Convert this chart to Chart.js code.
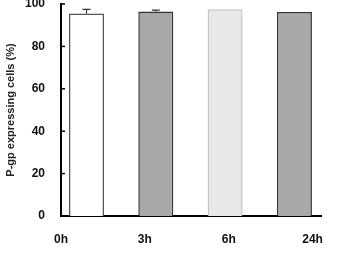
<!DOCTYPE html>
<html>
<head>
<meta charset="utf-8">
<script src="https://cdn.jsdelivr.net/npm/chart.js@4.4.1/dist/chart.umd.min.js"></script>
<style>
  html, body { margin: 0; padding: 0; background: #fff; }
  #wrap { width: 359px; height: 253px; }
</style>
</head>
<body>
<div id="wrap"><canvas id="pgpchart"></canvas></div>
<script>
var categories = ["0h", "3h", "6h", "24h"];
var values = [95.5, 96.5, 97.5, 96.2];
var errors = [2.0, 0.6, 0, 0];
var fills = ["#ffffff", "#a8a8a8", "#e8e8e8", "#a8a8a8"];
var borders = ["#555555", "#333333", "#c4c4c4", "#333333"];

var font = "'Liberation Sans', Arial, sans-serif";

// error bars, upward only
var errorBars = {
    id: "errorBars",
    afterDatasetsDraw: function (chart) {
        var ctx = chart.ctx, xs = chart.scales.x, ys = chart.scales.y;
        ctx.save();
        ctx.strokeStyle = "#333";
        ctx.lineWidth = 1.2;
        for (var i = 0; i < values.length; i++) {
            if (!errors[i]) continue;
            var x = xs.getPixelForValue(i);
            var y0 = ys.getPixelForValue(values[i]);
            var y1 = ys.getPixelForValue(values[i] + errors[i]);
            ctx.beginPath();
            ctx.moveTo(x, y0); ctx.lineTo(x, y1);
            ctx.moveTo(x - 4, y1); ctx.lineTo(x + 4, y1);
            ctx.stroke();
        }
        ctx.restore();
    }
};

// tick marks pointing into the plot
var innerTicks = {
    id: "innerTicks",
    afterDraw: function (chart) {
        var ctx = chart.ctx, ys = chart.scales.y, left = chart.chartArea.left;
        ctx.save();
        ctx.strokeStyle = "#000";
        ctx.lineWidth = 1.5;
        ys.ticks.forEach(function (t) {
            var y = ys.getPixelForValue(t.value);
            ctx.beginPath();
            ctx.moveTo(left, y); ctx.lineTo(left + 4, y);
            ctx.stroke();
        });
        ctx.restore();
    }
};

var config = {
    type: "bar",
    data: {
        datasets: [{
            data: values.map(function (v, i) { return { x: i, y: v }; }),
            backgroundColor: fills,
            borderColor: borders,
            borderWidth: 1.5,
            barPercentage: 0.505,
            categoryPercentage: 1
        }]
    },
    options: {
        responsive: true,
        maintainAspectRatio: false,
        animation: false,
        layout: { padding: { left: 0, right: 38, top: 4, bottom: 0 } },
        plugins: { legend: { display: false }, tooltip: { enabled: false } },
        scales: {
            x: {
                type: "linear",
                position: "bottom",
                offset: false,
                min: -0.368,
                max: 3.384,
                ticks: { display: false },
                grid: { display: false, drawTicks: false, offset: false },
                border: { display: true, color: "#000", width: 2 },
                afterFit: function (s) { s.height = 0; s.paddingLeft = 0; s.paddingRight = 0; }
            },
            xl: {
                type: "linear",
                position: "bottom",
                offset: false,
                min: 0,
                max: 3.1,
                ticks: {
                    stepSize: 1,
                    includeBounds: false,
                    padding: 16,
                    autoSkip: false,
                    maxRotation: 0,
                    color: "#111",
                    font: { family: font, size: 12, weight: "bold" },
                    callback: function (v) { return categories[v]; }
                },
                grid: { display: false, drawTicks: false, tickLength: 0, offset: false },
                border: { display: false },
                afterFit: function (s) { s.height = 37; s.paddingLeft = 0; s.paddingRight = 0; }
            },
            y: {
                min: 0,
                max: 100,
                ticks: {
                    stepSize: 20,
                    padding: 16,
                    color: "#111",
                    font: { family: font, size: 12, weight: "bold" }
                },
                grid: { display: false, drawTicks: false },
                border: { display: true, color: "#000", width: 2 },
                title: {
                    display: true,
                    text: "P-gp expressing cells (%)",
                    color: "#222",
                    padding: { top: 4, bottom: 0 },
                    font: { family: font, size: 11, weight: "bold" }
                },
                afterFit: function (s) { s.width = 61; s.paddingTop = 0; s.paddingBottom = 0; }
            }
        }
    },
    plugins: [errorBars, innerTicks]
};
var pgpchart = new Chart(document.getElementById("pgpchart"), config);
</script>
</body>
</html>
